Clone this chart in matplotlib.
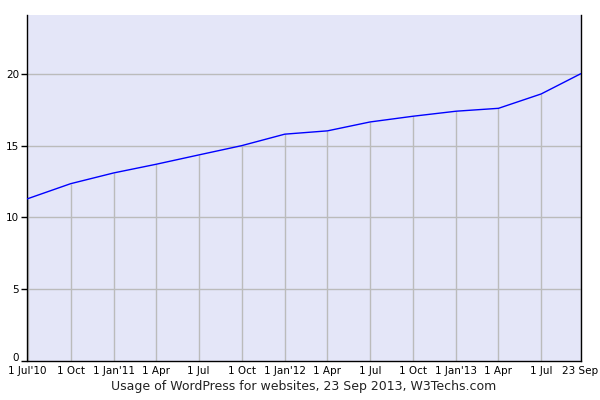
import datetime as dt
import matplotlib
matplotlib.use("Agg")
import matplotlib.pyplot as plt
import matplotlib.dates as mdates
from matplotlib.transforms import ScaledTranslation

# даты точек и доля WordPress (%)
dates = ["2010-07-01", "2010-10-01", "2011-01-01", "2011-04-01", "2011-07-01",
         "2011-10-01", "2012-01-01", "2012-04-01", "2012-07-01", "2012-10-01",
         "2013-01-01", "2013-04-01", "2013-07-01", "2013-09-23"]
values = [11.3, 12.35, 13.1, 13.7, 14.35, 15.0, 15.8, 16.03, 16.65, 17.05,
          17.4, 17.6, 18.6, 20.0]
tick_labels = ["1 Jul'10", "1 Oct", "1 Jan'11", "1 Apr", "1 Jul", "1 Oct", "1 Jan'12",
               "1 Apr", "1 Jul", "1 Oct", "1 Jan'13", "1 Apr", "1 Jul", "23 Sep"]
y_ticks = [0, 5, 10, 15, 20]

x = [dt.datetime.strptime(d, "%Y-%m-%d") for d in dates]

fig = plt.figure(figsize=(6, 4), dpi=100)
ax = fig.add_axes([27.5 / 600, 39 / 400, 553 / 600, 346 / 400])
ax.set_facecolor("#e4e6f8")

# горизонтальная сетка и вертикальные линии до графика
for yv in y_ticks[1:]:
    ax.axhline(yv, color="#bbbbbb", lw=1, zorder=1)
ax.vlines(x, 0, values, color="#bbbbbb", lw=1, zorder=1)
ax.plot(x, values, color="#0000ff", lw=1, zorder=3)

ax.set_xlim(x[0], x[-1])
ax.set_ylim(0, 24.1)
ax.set_xticks(mdates.date2num(x))
ax.set_xticklabels(tick_labels, fontsize=7.5)
ax.set_yticks(y_ticks)
ax.set_yticklabels([str(v) for v in y_ticks], fontsize=7.5)
ax.tick_params(axis="x", length=0, pad=3.5)
ax.tick_params(axis="y", length=4, width=1, direction="out", pad=2)

# подпись "0" чуть выше, чтобы не наезжала на "1 Jul'10"
lbl0 = ax.get_yticklabels()[0]
lbl0.set_transform(lbl0.get_transform() + ScaledTranslation(0, 3 / 72, fig.dpi_scale_trans))

for side in ["left", "bottom", "right"]:
    ax.spines[side].set_color("black")
    ax.spines[side].set_linewidth(1)
ax.spines["top"].set_visible(False)

ax.set_xlabel("Usage of WordPress for websites, 23 Sep 2013, W3Techs.com",
              fontsize=9, color="#222222", labelpad=3)

fig.savefig("out.png", dpi=100)
